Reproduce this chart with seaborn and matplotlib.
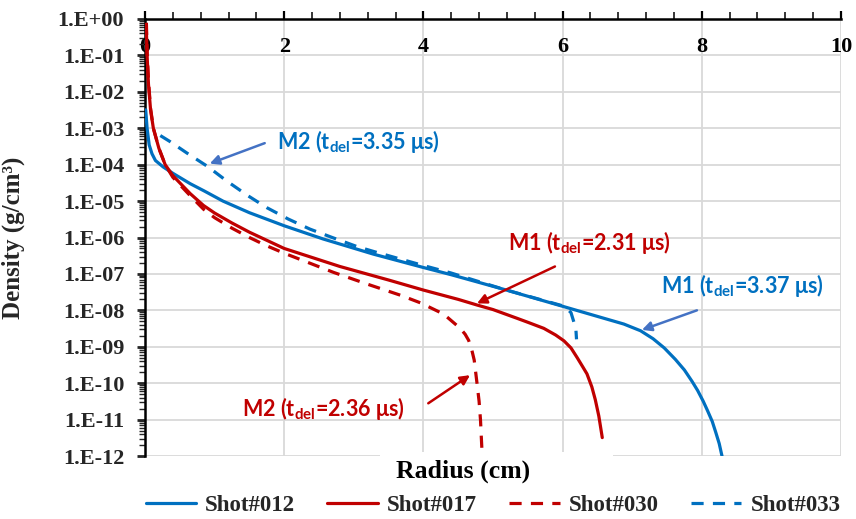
import numpy as np
import pandas as pd
import matplotlib
matplotlib.use("Agg")
import matplotlib.pyplot as plt
from matplotlib.ticker import FixedLocator, LogLocator, NullFormatter, FixedFormatter
from matplotlib.patches import Rectangle
import seaborn as sns

# ---------------- data ----------------
shot012_r = [0.01, 0.03, 0.06, 0.10, 0.15, 0.26, 0.40, 0.65, 0.85, 1.12, 1.50, 2.00, 2.56,
             3.28, 4.00, 4.40, 5.15, 6.02, 6.60, 6.88, 7.12, 7.30, 7.46, 7.62, 7.75, 7.86,
             7.94, 8.02, 8.08, 8.15, 8.20, 8.25, 8.29]
shot012_rho = [3.2e-3, 1.0e-3, 3.5e-4, 2.0e-4, 1.3e-4, 8.7e-5, 5.8e-5, 3.0e-5, 1.9e-5, 1.0e-5,
               4.8e-6, 2.1e-6, 9.1e-7, 3.5e-7, 1.5e-7, 9.5e-8, 3.8e-8, 1.26e-8, 6.0e-9,
               4.2e-9, 2.75e-9, 1.66e-9, 9.3e-10, 4.5e-10, 2.3e-10, 1.12e-10, 6.3e-11,
               3.2e-11, 1.8e-11, 8.9e-12, 4.5e-12, 2.2e-12, 1.0e-12]

shot017_r = [0.02, 0.03, 0.05, 0.08, 0.12, 0.20, 0.29, 0.40, 0.65, 0.84, 1.00, 1.25, 1.50,
             2.00, 2.80, 3.50, 4.00, 4.50, 4.77, 5.00, 5.35, 5.50, 5.73, 5.90, 6.02, 6.12,
             6.21, 6.29, 6.35, 6.42, 6.47, 6.52, 6.57]
shot017_rho = [5.0e-1, 1.0e-1, 1.6e-2, 3.2e-3, 1.0e-3, 2.8e-4, 1.0e-4, 5.0e-5, 1.6e-5, 7.6e-6,
               4.7e-6, 2.5e-6, 1.4e-6, 5.0e-7, 1.6e-7, 6.8e-8, 3.6e-8, 2.0e-8, 1.4e-8,
               1.05e-8, 6.0e-9, 4.7e-9, 3.2e-9, 2.1e-9, 1.45e-9, 9.3e-10, 5.0e-10, 2.8e-10,
               1.8e-10, 7.9e-11, 3.5e-11, 1.26e-11, 3.2e-12]

shot030_r = [0.02, 0.03, 0.05, 0.08, 0.12, 0.20, 0.29, 0.40, 0.65, 0.84, 1.00, 1.25, 1.50,
             1.75, 2.00, 2.71, 3.20, 3.67, 3.96, 4.29, 4.53, 4.60, 4.65, 4.69, 4.73, 4.77,
             4.80, 4.82, 4.84]
shot030_rho = [7.9e-1, 1.3e-1, 2.0e-2, 3.5e-3, 1.0e-3, 2.8e-4, 1.0e-4, 4.5e-5, 1.4e-5, 6.0e-6,
               3.5e-6, 1.8e-6, 1.0e-6, 5.9e-7, 3.7e-7, 1.1e-7, 5.2e-8, 2.6e-8, 1.6e-8,
               7.9e-9, 3.2e-9, 2.2e-9, 1.5e-9, 9.0e-10, 4.3e-10, 1.0e-10, 3.2e-11, 1.0e-11,
               1.6e-12]

shot033_r = [0.22, 0.36, 0.60, 0.90, 1.18, 1.48, 1.75, 2.06, 2.37, 2.69, 3.05, 3.33, 4.00,
             4.39, 5.15, 6.02, 6.12, 6.19, 6.20]
shot033_rho = [6.3e-4, 4.3e-4, 2.1e-4, 8.9e-5, 3.5e-5, 1.4e-5, 6.6e-6, 3.2e-6, 1.7e-6, 1.0e-6,
               5.6e-7, 3.9e-7, 1.7e-7, 1.07e-7, 3.8e-8, 1.3e-8, 8.7e-9, 3.2e-9, 1.6e-9]

series_names = ["Shot#012", "Shot#017", "Shot#030", "Shot#033"]
x_ticks = [0, 2, 4, 6, 8, 10]
y_ticks = [1e0, 1e-1, 1e-2, 1e-3, 1e-4, 1e-5, 1e-6, 1e-7, 1e-8, 1e-9, 1e-10, 1e-11, 1e-12]
y_tick_labels = ["1.E+00", "1.E-01", "1.E-02", "1.E-03", "1.E-04", "1.E-05", "1.E-06",
                 "1.E-07", "1.E-08", "1.E-09", "1.E-10", "1.E-11", "1.E-12"]

# annotations: text, text position (r, rho), arrow tail, arrow head
ann_texts = [r"M2 (t$_{\mathregular{del}}$=3.35 μs)", r"M1 (t$_{\mathregular{del}}$=2.31 μs)",
             r"M1 (t$_{\mathregular{del}}$=3.37 μs)", r"M2 (t$_{\mathregular{del}}$=2.36 μs)"]
ann_text_pos = [(1.90, 4.4e-4), (5.22, 7.4e-7), (7.42, 4.9e-8), (1.39, 2.0e-11)]
ann_tail = [(1.72, 3.9e-4), (5.89, 1.6e-7), (7.93, 1.0e-8), (4.07, 2.8e-11)]
ann_head = [(0.93, 1.07e-4), (4.77, 1.55e-8), (7.14, 2.9e-9), (4.67, 1.66e-10)]

# ---------------- styling ----------------
BLUE = "#0070C0"
RED = "#C00000"
ARROW_BLUE = "#4472C4"
ann_colors = [BLUE, RED, BLUE, RED]
arrow_colors = [ARROW_BLUE, RED, ARROW_BLUE, RED]

sns.set_theme(style="white")
plt.rcParams["font.family"] = ["Liberation Serif", "DejaVu Serif"]
plt.rcParams["mathtext.default"] = "regular"

fig = plt.figure(figsize=(8.56, 5.19), dpi=100)
ax = fig.add_axes([145 / 856, 1 - 456 / 519, 696 / 856, 437 / 519])

DASH = (0, (3.8, 2.9))
specs = [
    (shot012_r, shot012_rho, BLUE, "-"),
    (shot017_r, shot017_rho, RED, "-"),
    (shot030_r, shot030_rho, RED, DASH),
    (shot033_r, shot033_rho, BLUE, DASH),
]
for name, (r, rho, c, ls) in zip(series_names, specs):
    df = pd.DataFrame({"r": r, "rho": rho})
    sns.lineplot(data=df, x="r", y="rho", ax=ax, color=c, linestyle=ls, linewidth=2.3,
                 label=name, estimator=None, sort=False, zorder=3)

ax.set_yscale("log")
ax.set_xlim(0, 10)
ax.set_ylim(1e-12, 1e0)

# grid
ax.grid(True, which="major", color="#D9D9D9", linewidth=1.3, zorder=0)
ax.set_axisbelow(True)

# spines
for s in ["right", "bottom"]:
    ax.spines[s].set_visible(False)
for s in ["left", "top"]:
    ax.spines[s].set_visible(True)
    ax.spines[s].set_color("black")
    ax.spines[s].set_linewidth(1.8)

# x axis on top, labels inside
ax.xaxis.tick_top()
ax.xaxis.set_major_locator(FixedLocator(x_ticks))
ax.xaxis.set_minor_locator(FixedLocator(np.arange(0, 10.01, 0.4)))
ax.set_xticklabels([str(t) for t in x_ticks])
ax.tick_params(axis="x", which="major", direction="out", length=6, width=1.6,
               pad=-33, labelsize=16, colors="black", top=True, bottom=False)
ax.tick_params(axis="x", which="minor", direction="out", length=5, width=1.3,
               top=True, bottom=False)
for lab in ax.get_xticklabels():
    lab.set_fontweight("bold")

# y axis
ax.yaxis.set_major_locator(FixedLocator(y_ticks))
ax.yaxis.set_major_formatter(FixedFormatter(y_tick_labels))
ax.yaxis.set_minor_locator(LogLocator(base=10, subs=np.arange(2, 10), numticks=100))
ax.yaxis.set_minor_formatter(NullFormatter())
ax.tick_params(axis="y", which="major", direction="out", length=6, width=2.0,
               pad=9, labelsize=16, left=True)
ax.tick_params(axis="y", which="minor", direction="out", length=4.5, width=1.0, left=True)
for lab in ax.get_yticklabels():
    lab.set_fontweight("bold")

ax.set_ylabel("Density (g/cm³)", fontsize=18, fontweight="bold")
ax.yaxis.set_label_coords(-0.172, 0.5)

# white box behind the axis title (covers the grid as in the reference)
ax.add_patch(Rectangle((0.338, -0.03), 0.334, 0.039, transform=ax.transAxes,
                       facecolor="white", edgecolor="none", zorder=1, clip_on=False))
ax.set_xlabel("")
ax.text(0.457, -0.036, "Radius (cm)", transform=ax.transAxes, ha="center", va="center",
        fontsize=18.5, fontweight="bold", color="black", zorder=2, clip_on=False)

# annotations
for txt, tp, tail, head, tc, acol in zip(ann_texts, ann_text_pos, ann_tail, ann_head,
                                          ann_colors, arrow_colors):
    ax.text(tp[0], tp[1], txt, color=tc, fontsize=15.5, fontweight="bold",
            family=["Lato", "DejaVu Sans"], ha="left", va="center", zorder=5)
    ax.annotate("", xy=head, xytext=tail,
                arrowprops=dict(arrowstyle="-|>", color=acol, lw=1.8,
                                mutation_scale=14, shrinkA=0, shrinkB=0), zorder=5)

# legend
leg = ax.legend(loc="upper center", bbox_to_anchor=(0.5, -0.068), ncol=4, frameon=False,
                prop={"family": ["Liberation Serif"], "weight": "bold", "size": 16.5},
                handlelength=2.2, handletextpad=0.4, columnspacing=1.4, borderaxespad=0)

fig.savefig("out.png", dpi=100)
